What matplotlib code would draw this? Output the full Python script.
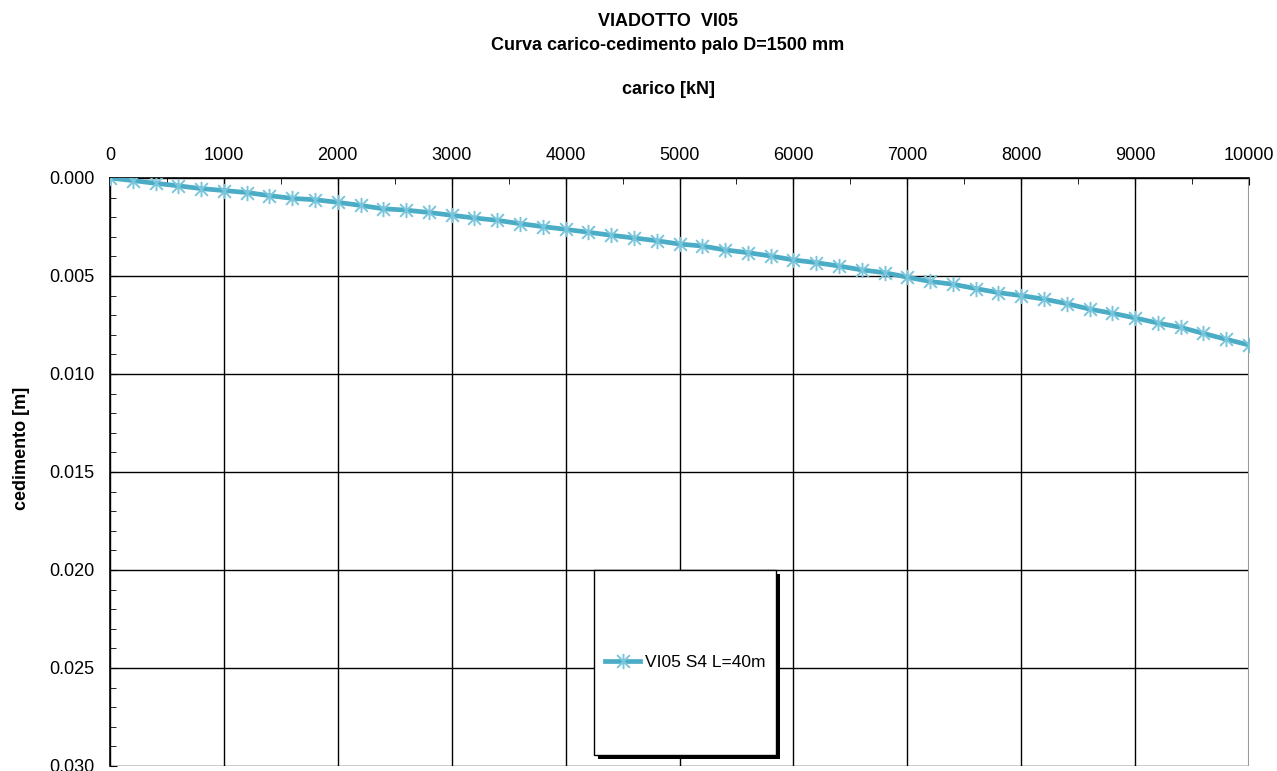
import numpy as np
import matplotlib
matplotlib.use("Agg")
import matplotlib.pyplot as plt
from matplotlib.patches import Rectangle
from matplotlib.path import Path

plt.rcParams['font.family'] = ['Liberation Sans', 'DejaVu Sans']

# load [kN] and settlement [m]
carico = [0, 200, 400, 600, 800, 1000, 1200, 1400, 1600, 1800,
          2000, 2200, 2400, 2600, 2800, 3000, 3200, 3400, 3600, 3800,
          4000, 4200, 4400, 4600, 4800, 5000, 5200, 5400, 5600, 5800,
          6000, 6200, 6400, 6600, 6800, 7000, 7200, 7400, 7600, 7800,
          8000, 8200, 8400, 8600, 8800, 9000, 9200, 9400, 9600, 9800, 10000]
cedimento = [0.00000, 0.00013, 0.00027, 0.00040, 0.00054, 0.00064, 0.00074, 0.00090, 0.00104, 0.00111,
             0.00124, 0.00140, 0.00157, 0.00164, 0.00176, 0.00190, 0.00204, 0.00216, 0.00233, 0.00248,
             0.00262, 0.00277, 0.00292, 0.00306, 0.00320, 0.00337, 0.00347, 0.00367, 0.00381, 0.00398,
             0.00418, 0.00432, 0.00449, 0.00469, 0.00483, 0.00506, 0.00528, 0.00542, 0.00564, 0.00585,
             0.00600, 0.00618, 0.00641, 0.00669, 0.00690, 0.00714, 0.00740, 0.00762, 0.00793, 0.00823,
             0.00852]
serie = 'VI05 S4 L=40m'

x_ticks = [0, 1000, 2000, 3000, 4000, 5000, 6000, 7000, 8000, 9000, 10000]
y_ticks = [0.000, 0.005, 0.010, 0.015, 0.020, 0.025, 0.030]

# excel-like star marker: an X plus a vertical bar
star = Path([(-1, -1), (1, 1), (-1, 1), (1, -1), (0, -1.2), (0, 1.2)],
            [Path.MOVETO, Path.LINETO, Path.MOVETO, Path.LINETO, Path.MOVETO, Path.LINETO])

W, H = 1277, 771
fig = plt.figure(figsize=(W / 100, H / 100), dpi=100)
ax = fig.add_axes([110 / W, 1 - 766 / H, (1249 - 110) / W, (766 - 178) / H])

ax.plot(carico, cedimento, color='#4BACC6', lw=3.4, marker=star,
        ms=11, mec='#79C6DC', mew=1.4, label=serie, zorder=3)

ax.set_xlim(0, 10000)
ax.set_ylim(0.030, 0.0)
ax.set_xticks(x_ticks)
ax.set_xticks(np.arange(0, 10001, 500), minor=True)
ax.set_yticks(y_ticks)
ax.set_yticks(np.arange(0, 0.0301, 0.001), minor=True)
ax.set_yticklabels(['%.3f' % v for v in y_ticks])
ax.xaxis.tick_top()
ax.tick_params(axis='both', which='major', labelsize=13, length=5, direction='in')
ax.tick_params(axis='x', which='major', pad=10)
ax.tick_params(axis='y', which='major', pad=11)
ax.tick_params(axis='both', which='minor', length=4, direction='in')
ax.tick_params(axis='x', which='both', top=True, bottom=False)
ax.tick_params(axis='y', which='both', left=True, right=False)
ax.grid(True, which='major', color='black', lw=1)
for s in ['bottom', 'right']:
    ax.spines[s].set_visible(False)
ax.spines['top'].set_linewidth(1.2)
ax.spines['left'].set_linewidth(1.2)
ax.axvline(10000, color='#999999', lw=1.5, zorder=2)

# legend box with shadow
shadow = Rectangle((4249 + 35, 0.0200 + 0.0002), 5847 - 4249, 0.00944,
                   facecolor='black', edgecolor='none', zorder=4)
box = Rectangle((4249, 0.0200), 5847 - 4249, 0.00944,
                facecolor='white', edgecolor='black', lw=1, zorder=5)
ax.add_patch(shadow)
ax.add_patch(box)
leg = ax.legend(loc='center left', bbox_to_anchor=((4249 + 100) / 10000, 1 - 0.0247 / 0.030),
                frameon=False, fontsize=12.5, handlelength=2.0, handletextpad=0.3,
                borderpad=0, borderaxespad=0)
leg.set_zorder(6)

cx = 668 / W
fig.text(cx, 1 - 21 / H, 'VIADOTTO  VI05', ha='center', va='center',
         fontsize=13, fontweight='bold')
fig.text(cx, 1 - 45 / H, 'Curva carico-cedimento palo D=1500 mm',
         ha='center', va='center', fontsize=13, fontweight='bold')
fig.text(cx, 1 - 90 / H, 'carico [kN]', ha='center', va='center',
         fontsize=13, fontweight='bold')
fig.text(22 / W, 1 - 448 / H, 'cedimento [m]', ha='center', va='center', rotation=90,
         fontsize=13, fontweight='bold')

fig.savefig('out.png', dpi=100)
